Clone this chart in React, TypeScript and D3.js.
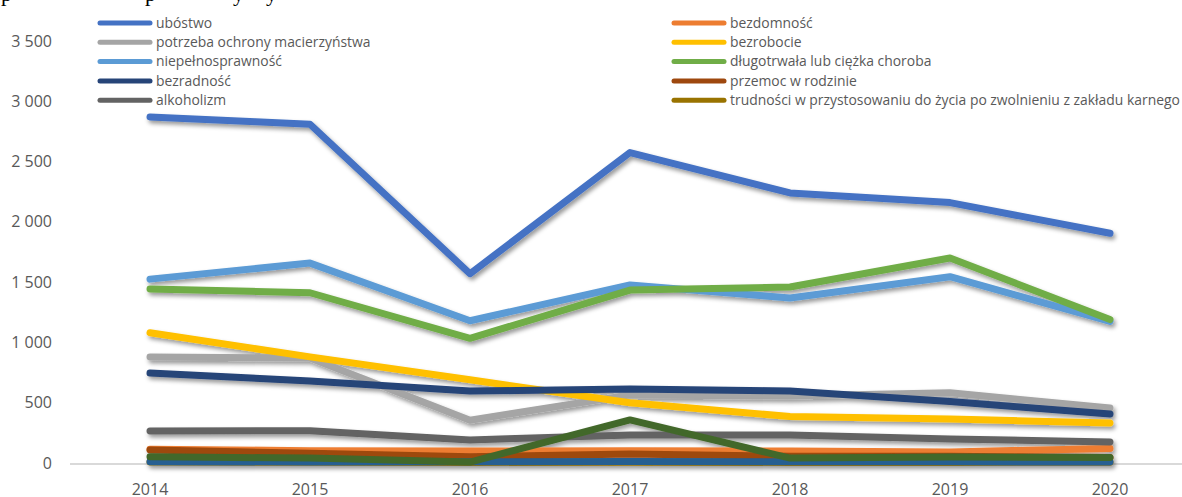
import React, { useEffect, useRef } from 'react';
import * as d3 from 'd3';

const years = ['2014', '2015', '2016', '2017', '2018', '2019', '2020'];
const yTicks = [0, 500, 1000, 1500, 2000, 2500, 3000, 3500];

// series names in Excel order (last two are not visible in the legend)
const seriesNames = [
  'ubóstwo',
  'bezdomność',
  'potrzeba ochrony macierzyństwa',
  'bezrobocie',
  'niepełnosprawność',
  'długotrwała lub ciężka choroba',
  'bezradność',
  'przemoc w rodzinie',
  'alkoholizm',
  'trudności w przystosowaniu do życia po zwolnieniu z zakładu karnego',
  'narkomania',
  'zdarzenie losowe',
];
const seriesColors = [
  '#4472C4', '#ED7D31', '#A5A5A5', '#FFC000', '#5B9BD5', '#70AD47',
  '#264478', '#9E480E', '#636363', '#997300', '#255E91', '#43682B',
];

const ubostwo = [2870, 2810, 1570, 2575, 2240, 2160, 1905];
const bezdomnosc = [115, 102, 100, 102, 100, 92, 120];
const ochronaMacierzynstwa = [880, 870, 355, 565, 555, 583, 456];
const bezrobocie = [1080, 880, 690, 500, 385, 365, 332];
const niepelnosprawnosc = [1525, 1658, 1180, 1476, 1368, 1545, 1175];
const choroba = [1443, 1412, 1034, 1434, 1460, 1700, 1190];
const bezradnosc = [746, 680, 597, 614, 597, 510, 406];
const przemoc = [108, 80, 52, 75, 55, 55, 45];
const alkoholizm = [265, 268, 191, 232, 232, 200, 175];
const trudnosci = [8, 6, 5, 6, 5, 5, 6];
const narkomania = [10, 9, 10, 12, 10, 10, 8];
const zdarzenieLosowe = [52, 41, 8, 357, 41, 50, 45];

const seriesValues = [
  ubostwo, bezdomnosc, ochronaMacierzynstwa, bezrobocie, niepelnosprawnosc, choroba,
  bezradnosc, przemoc, alkoholizm, trudnosci, narkomania, zdarzenieLosowe,
];

const legendCount = 10;

const App = () => {
  const chartRef = useRef<SVGSVGElement>(null);

  useEffect(() => {
    const svg = d3.select(chartRef.current);
    svg.selectAll('*').remove();

    const width = 1182;
    const height = 497;
    const font = '"Open Sans", "Noto Sans", sans-serif';
    const textColor = '#595959';

    svg.attr('width', width).attr('height', height);

    const defs = svg.append('defs');
    const shadow = defs.append('filter')
      .attr('id', 'shadow')
      .attr('x', '-5%').attr('y', '-20%')
      .attr('width', '110%').attr('height', '140%');
    shadow.append('feDropShadow')
      .attr('dx', 2).attr('dy', 3)
      .attr('stdDeviation', 2)
      .attr('flood-color', '#000')
      .attr('flood-opacity', 0.4);

    // bits of the document text above the chart, cut off by the crop
    const cut = svg.append('g')
      .style('font-family', '"Liberation Serif", serif')
      .style('font-size', '22px')
      .style('fill', '#000');
    [[1, 'p'], [145, 'p'], [233, 'y'], [266, 'y']].forEach(([x, t]) => {
      cut.append('text').attr('x', x).attr('y', 1).text(t as string);
    });

    const xScale = d3.scaleBand()
      .domain(years)
      .range([70, 1190])
      .padding(0);
    const xc = (d: string) => (xScale(d) as number) + xScale.bandwidth() / 2;

    const yScale = d3.scaleLinear()
      .domain([0, 3500])
      .range([463, 41]);

    // y tick labels
    svg.append('g')
      .selectAll('text')
      .data(yTicks)
      .enter()
      .append('text')
      .attr('x', 52)
      .attr('y', d => yScale(d))
      .attr('dy', '0.35em')
      .attr('text-anchor', 'end')
      .style('font-family', font)
      .style('font-size', '16px')
      .style('fill', textColor)
      .text(d => d3.format(',')(d).replace(/,/g, ' '));

    // baseline
    svg.append('line')
      .attr('x1', 70)
      .attr('x2', width)
      .attr('y1', yScale(0) + 1)
      .attr('y2', yScale(0) + 1)
      .style('stroke', '#D9D9D9')
      .style('stroke-width', 2);

    // x labels
    svg.append('g')
      .selectAll('text')
      .data(years)
      .enter()
      .append('text')
      .attr('x', d => xc(d))
      .attr('y', 495)
      .attr('text-anchor', 'middle')
      .style('font-family', font)
      .style('font-size', '16px')
      .style('fill', textColor)
      .text(d => d);

    const line = d3.line<number>()
      .x((d, i) => xc(years[i]))
      .y(d => yScale(d));

    svg.append('g')
      .attr('filter', 'url(#shadow)')
      .selectAll('path')
      .data(seriesValues)
      .enter()
      .append('path')
      .attr('d', d => line(d))
      .style('fill', 'none')
      .style('stroke', (d, i) => seriesColors[i])
      .style('stroke-width', 7)
      .style('stroke-linecap', 'round')
      .style('stroke-linejoin', 'round');

    // legend, two columns, row-wise
    const legendItems = svg.append('g')
      .selectAll('.legend-item')
      .data(seriesNames.slice(0, legendCount))
      .enter()
      .append('g')
      .attr('class', 'legend-item')
      .attr('transform', (d, i) => `translate(${i % 2 === 0 ? 98 : 672}, ${23 + Math.floor(i / 2) * 19.3})`);

    legendItems.append('line')
      .attr('x1', 2)
      .attr('x2', 52)
      .style('stroke', (d, i) => seriesColors[i])
      .style('stroke-width', 5)
      .style('stroke-linecap', 'round');

    legendItems.append('text')
      .attr('x', 58)
      .attr('dy', '0.35em')
      .style('font-family', font)
      .style('font-size', '13.9px')
      .style('fill', textColor)
      .text(d => d);
  }, []);

  return (
    <div style={{ position: 'absolute', left: 0, top: 0 }}>
      <style>{'body{margin:0}'}</style>
      <svg ref={chartRef}></svg>
    </div>
  );
};

export default App;
